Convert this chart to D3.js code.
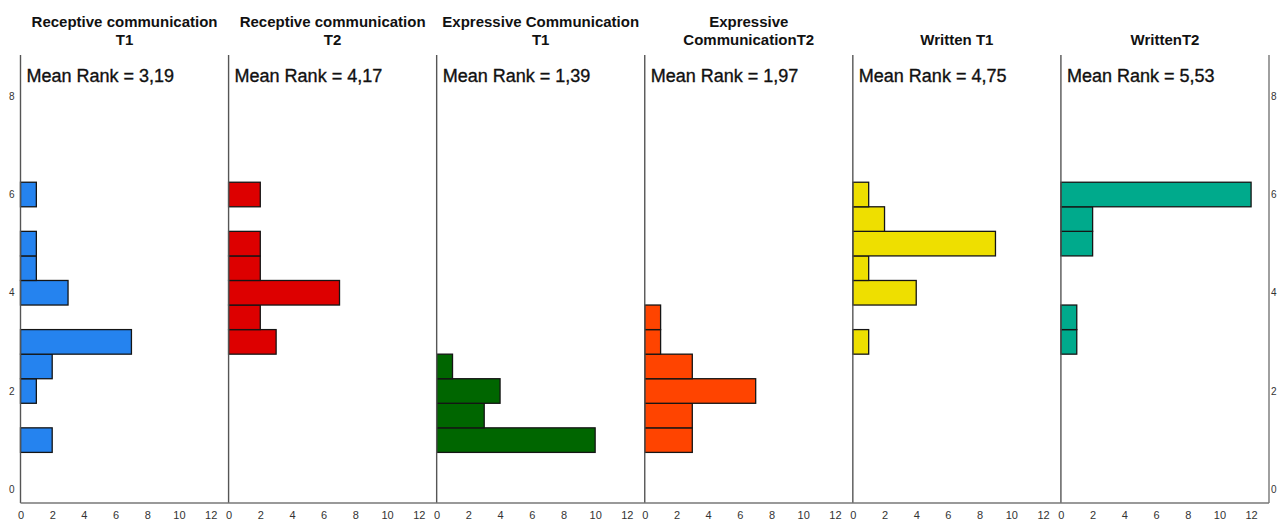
<!DOCTYPE html>
<html>
<head>
<meta charset="utf-8">
<script src="https://cdn.jsdelivr.net/npm/d3@7"></script>
<style>
  html, body { margin: 0; padding: 0; background: #fff; }
  svg { display: block; }
  text { font-family: "Liberation Sans", Arial, sans-serif; }
</style>
</head>
<body>
<svg id="chart" width="1277" height="520"></svg>
<script>
// Rank values (bin centres) shared by every panel
const rankBins = [1, 1.5, 2, 2.5, 3, 3.5, 4, 4.5, 5, 5.5, 6];

// Frequency of each rank per measure
const receptiveT1  = [2, 0, 1, 2, 7, 0, 3, 1, 1, 0, 1];
const receptiveT2  = [0, 0, 0, 0, 3, 2, 7, 2, 2, 0, 2];
const expressiveT1 = [10, 3, 4, 1, 0, 0, 0, 0, 0, 0, 0];
const expressiveT2 = [3, 3, 7, 3, 1, 1, 0, 0, 0, 0, 0];
const writtenT1    = [0, 0, 0, 0, 1, 0, 4, 1, 9, 2, 1];
const writtenT2    = [0, 0, 0, 0, 1, 1, 0, 0, 2, 2, 12];

const panelTitles = [
  ["Receptive communication", "T1"],
  ["Receptive communication", "T2"],
  ["Expressive Communication", "T1"],
  ["Expressive", "CommunicationT2"],
  ["Written T1"],
  ["WrittenT2"]
];
const panelColors = ["#2583ef", "#dd0000", "#006600", "#ff4400", "#eedf00", "#00aa8c"];

const rankTicks = [0, 2, 4, 6, 8];
const countTicks = [0, 2, 4, 6, 8, 10, 12];

const seriesList = [receptiveT1, receptiveT2, expressiveT1, expressiveT2, writtenT1, writtenT2];
const panels = seriesList.map((counts, i) => ({
  id: i,
  title: panelTitles[i],
  color: panelColors[i],
  bins: rankBins.map((r, j) => ({ rank: r, count: counts[j] }))
}));

const svg = d3.select("#chart");
const plotLeft = 20.5, plotRight = 1269, plotTop = 55, plotBottom = 503;

const xPanel = d3.scaleBand().domain(panels.map(p => p.id)).range([plotLeft, plotRight]).padding(0);
const bw = xPanel.bandwidth();
const xCount = d3.scaleLinear().domain([0, 13.13]).range([0, bw]);
const yRank = d3.scaleLinear().domain([-0.28, 8.84]).range([plotBottom, plotTop]);
const binHalf = 0.25;

const commaFmt = v => d3.format(".2f")(v).replace(".", ",");

const g = svg.selectAll("g.panel").data(panels).join("g")
  .attr("class", "panel")
  .attr("transform", d => `translate(${xPanel(d.id)},0)`);

// histogram bars
g.selectAll("rect.bar")
  .data(d => d.bins.filter(b => b.count > 0).map(b => ({ ...b, color: d.color })))
  .join("rect")
  .attr("class", "bar")
  .attr("x", xCount(0))
  .attr("y", b => yRank(b.rank + binHalf))
  .attr("width", b => xCount(b.count))
  .attr("height", b => yRank(b.rank - binHalf) - yRank(b.rank + binHalf))
  .attr("fill", b => b.color)
  .attr("stroke", "#151515")
  .attr("stroke-width", 1.3);

// panel left border (drawn above bars)
g.append("line")
  .attr("x1", 0).attr("x2", 0)
  .attr("y1", plotTop).attr("y2", plotBottom)
  .attr("stroke", "#555").attr("stroke-width", 1.4);

// bottom count axis per panel
g.each(function(d) {
  const axis = d3.axisBottom(xCount).tickValues(countTicks).tickSize(0).tickPadding(0);
  const ag = d3.select(this).append("g")
    .attr("transform", `translate(0,${plotBottom})`)
    .call(axis);
  ag.select(".domain").remove();
  ag.selectAll("text")
    .attr("dy", null)
    .attr("y", 16)
    .attr("font-size", 11)
    .attr("font-family", "Liberation Sans, Arial, sans-serif")
    .attr("fill", "#333");
});

// titles
g.each(function(d) {
  const t = d3.select(this).append("text")
    .attr("text-anchor", "middle")
    .attr("font-weight", "bold")
    .attr("font-size", 15)
    .attr("fill", "#111");
  const lines = d.title;
  const baseY = 45 - (lines.length - 1) * 18;
  lines.forEach((ln, k) => {
    t.append("tspan").attr("x", bw / 2).attr("y", baseY + k * 18).text(ln);
  });
});

// mean rank labels computed from the frequencies
g.append("text")
  .attr("x", 6)
  .attr("y", 81.5)
  .attr("font-size", 18)
  .attr("fill", "#111")
  .attr("stroke", "#111")
  .attr("stroke-width", 0.35)
  .text(d => {
    const n = d3.sum(d.bins, b => b.count);
    const m = d3.sum(d.bins, b => b.rank * b.count) / n;
    return "Mean Rank = " + commaFmt(m);
  });

// outer frame: bottom axis line and right border
svg.append("line")
  .attr("x1", plotLeft).attr("x2", plotRight)
  .attr("y1", plotBottom).attr("y2", plotBottom)
  .attr("stroke", "#777").attr("stroke-width", 1.4);
svg.append("line")
  .attr("x1", plotRight).attr("x2", plotRight)
  .attr("y1", plotTop).attr("y2", plotBottom)
  .attr("stroke", "#777").attr("stroke-width", 1.4);

// rank axes on both sides
const leftAxis = svg.append("g").attr("transform", `translate(${plotLeft},0)`)
  .call(d3.axisLeft(yRank).tickValues(rankTicks).tickSize(0).tickPadding(6));
const rightAxis = svg.append("g").attr("transform", `translate(${plotRight},0)`)
  .call(d3.axisRight(yRank).tickValues(rankTicks).tickSize(0).tickPadding(2));
[leftAxis, rightAxis].forEach(a => {
  a.select(".domain").remove();
  a.selectAll("text")
    .attr("font-size", 10)
    .attr("font-family", "Liberation Sans, Arial, sans-serif")
    .attr("fill", "#333");
});
</script>
</body>
</html>
